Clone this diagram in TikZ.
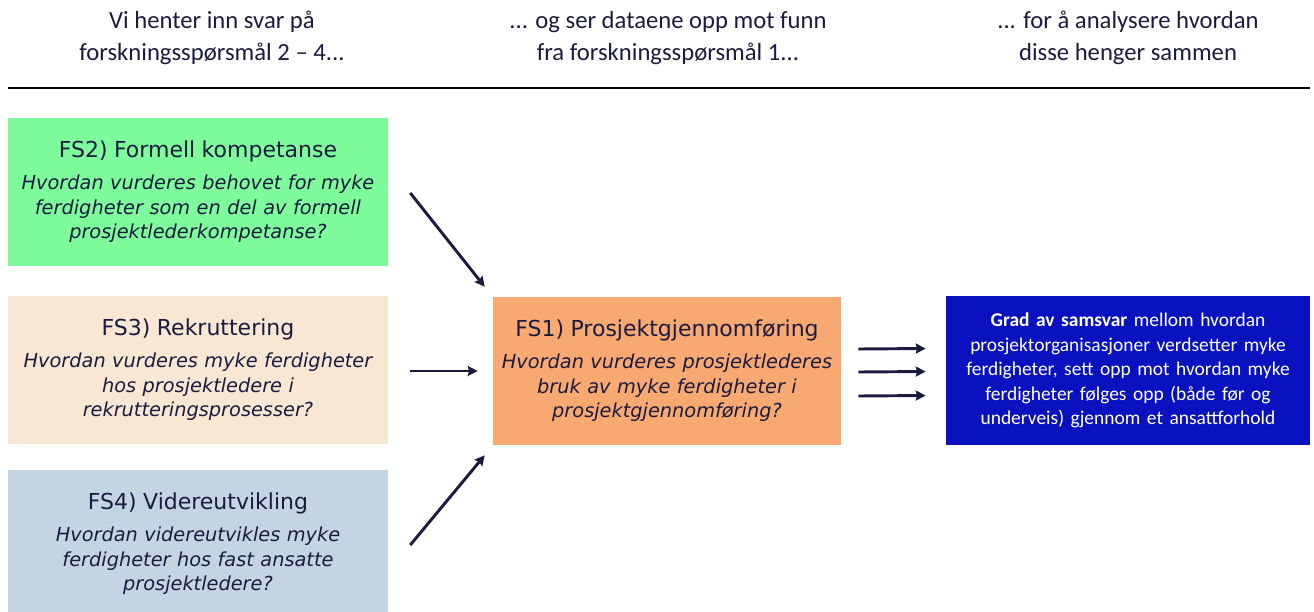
\documentclass[tikz,border=0pt]{standalone}
\usepackage{fontspec}
\setmainfont{DejaVu Sans}
\newfontfamily\calibri{Carlito}
\usetikzlibrary{arrows.meta}
\definecolor{navy}{HTML}{1B1B3F}
\definecolor{fsgreen}{HTML}{7EFC9C}
\definecolor{fsbeige}{HTML}{F8E8D3}
\definecolor{fsblue}{HTML}{C3D5E3}
\definecolor{fsorange}{HTML}{F7A971}
\definecolor{samsvar}{HTML}{0A12BF}
\newcommand\fstitle{\fontsize{16.5}{18.4}\selectfont}
\newcommand\fsbody{\fontsize{14.5}{18.4}\selectfont\itshape}
\tikzset{fsbox/.style={minimum width=285pt, minimum height=111pt, inner sep=0pt, text width=280pt, align=center, text=navy, font=\fontsize{14.5}{18.4}\selectfont},
         headtext/.style={text=navy, align=center, font=\calibri\fontsize{18.5}{24}\selectfont},
         fsarrow/.style={navy, line width=2.2pt, -{Stealth[length=7.5pt,width=7.5pt,inset=1pt]}}}

\begin{document}
\begin{tikzpicture}[x=0.75pt,y=-0.75pt]
   \useasboundingbox (0,0) rectangle (1314,611);
   % headings
   \node[headtext] (h1) at (212,38) {Vi henter inn svar på\\forskningsspørsmål 2 – 4...};
   \node[headtext] (h2) at (668,38) {... og ser dataene opp mot funn\\fra forskningsspørsmål 1...};
   \node[headtext] (h3) at (1128,38) {... for å analysere hvordan\\disse henger sammen};
   \draw[black, line width=2.2pt] (8,88) -- (1310,88);
   % research questions
   \node[fsbox, fill=fsgreen] (fs2) at (198,192) {\fstitle FS2) Formell kompetanse\\[5.6pt]\fsbody Hvordan vurderes behovet for myke\\ferdigheter som en del av formell\\prosjektlederkompetanse?};
   \node[fsbox, fill=fsbeige] (fs3) at (198,370) {\fstitle FS3) Rekruttering\\[5.6pt]\fsbody Hvordan vurderes myke ferdigheter\\hos prosjektledere i\\rekrutteringsprosesser?};
   \node[fsbox, fill=fsblue] (fs4) at (198,544) {\fstitle FS4) Videreutvikling\\[5.6pt]\fsbody Hvordan videreutvikles myke\\ferdigheter hos fast ansatte\\prosjektledere?};
   \node[fsbox, minimum width=261pt, text width=255pt, fill=fsorange] (fs1) at (667,371) {\fstitle FS1) Prosjektgjennomføring\\[5.6pt]\fsbody Hvordan vurderes prosjektlederes\\bruk av myke ferdigheter i\\prosjektgjennomføring?};
   \node[fsbox, minimum width=273pt, text width=268pt, minimum height=112pt, fill=samsvar, text=white, font=\calibri\fontsize{14.6}{18.4}\selectfont] (res) at (1128,370.5) {\textbf{Grad av samsvar} mellom hvordan\\prosjektorganisasjoner verdsetter myke\\ferdigheter, sett opp mot hvordan myke\\ferdigheter følges opp (både før og\\underveis) gjennom et ansattforhold};
   % arrows
   \draw[fsarrow] ([shift={(22,1)}]fs2.east) -- ([shift={(-8,-10)}]fs1.north west);
   \draw[fsarrow] ([shift={(22,1)}]fs3.east) -- ([shift={(-15,0)}]fs1.west);
   \draw[fsarrow] ([shift={(22,1)}]fs4.east) -- ([shift={(-8,10)}]fs1.south west);
   \foreach \dy in {-22,1,25}
      \draw[fsarrow] ([shift={(17,\dy)}]fs1.east) -- ([shift={(-20,\dy)}]res.west);
\end{tikzpicture}
\end{document}
